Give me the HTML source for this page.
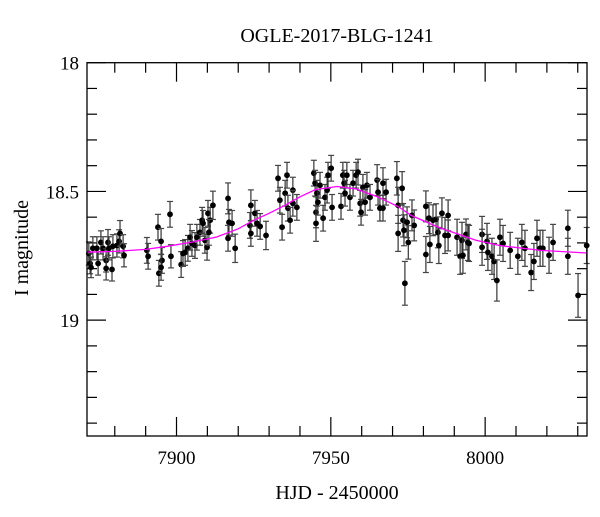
<!DOCTYPE html>
<html><head><meta charset="utf-8"><style>
html,body{margin:0;padding:0;background:#fff;}
svg text{font-family:"Liberation Serif",serif;fill:#000;}
</style></head><body>
<svg id="chart" width="600" height="512" viewBox="0 0 600 512" xmlns="http://www.w3.org/2000/svg">
<text x="337" y="42" font-size="20" text-anchor="middle">OGLE-2017-BLG-1241</text>
<text x="337" y="499" font-size="20" text-anchor="middle">HJD - 2450000</text>
<text x="28" y="248" font-size="20" text-anchor="middle" transform="rotate(-90 28 248)">I magnitude</text>
<g id="axes"></g>
<g id="marks"></g>
<rect x="87" y="62.7" width="500" height="373.3" fill="none" stroke="#000" stroke-width="1.3"/>
</svg>
<script>
const xTicksMajor = [7900, 7950, 8000];
const yTicksMajor = [18, 18.5, 19];
const xTickLabels = ["7900", "7950", "8000"];
const yTickLabels = ["18", "18.5", "19"];
const hjd = [7871.6,7872.0,7872.3,7872.9,7874.2,7874.6,7875.5,7876.2,7877.2,7877.2,7877.8,7878.1,7879.1,7879.4,7880.7,7881.4,7881.7,7882.7,7883.0,
7890.4,7890.8,7894.0,7894.3,7895.0,7895.3,7895.0,7897.9,7898.2,7901.5,7902.1,7902.8,7903.7,7904.4,7905.0,7906.0,7906.6,7907.6,7908.3,7908.6,7909.2,7909.9,7910.2,7910.9,7911.8,7910.5,
7916.7,7917.0,7916.7,7918.0,7919.0,7924.1,7923.8,7924.1,7925.4,7926.1,7927.1,7929.0,
7932.9,7933.5,7934.2,7935.2,7935.8,7936.1,7936.8,7937.7,7937.7,7939.0,
7944.5,7944.9,7945.5,7945.2,7945.2,7945.8,7946.5,7947.5,7948.1,7948.8,7949.1,7950.1,7950.4,
7953.3,7953.9,7954.3,7954.6,7955.2,7956.2,7957.2,7958.2,7958.8,7959.5,7959.8,7960.4,7961.1,7961.7,7962.7,7965.0,7965.3,7965.9,7966.9,7966.9,7967.9,
7971.4,7971.8,7971.8,7973.1,7973.4,7973.7,7974.7,7975.1,7974.0,7976.3,7977.0,
7980.8,7980.8,7981.8,7982.1,7983.1,7984.1,7984.7,7985.0,7986.0,7987.0,7988.0,7988.0,
7990.9,7991.9,7992.5,7992.8,7993.8,7994.4,7994.8,7999.0,7999.0,8000.6,8000.9,8002.2,8002.9,8003.8,8004.8,8005.8,
8008.1,8010.6,8011.9,8012.9,8014.9,8015.8,8016.8,8017.8,8018.7,8020.7,8022.0,8026.8,8026.8,8030.1,8032.9];
const imag = [18.741,18.780,18.795,18.721,18.721,18.780,18.698,18.721,18.768,18.799,18.698,18.721,18.803,18.713,18.710,18.694,18.663,18.713,18.748,
18.729,18.752,18.639,18.818,18.694,18.768,18.795,18.589,18.752,18.784,18.741,18.737,18.721,18.678,18.702,18.710,18.678,18.659,18.612,18.624,18.690,18.717,18.585,18.612,18.554,18.659,
18.527,18.620,18.682,18.624,18.721,18.554,18.632,18.663,18.585,18.624,18.636,18.671,
18.449,18.534,18.639,18.507,18.437,18.565,18.612,18.495,18.546,18.562,
18.429,18.468,18.507,18.581,18.624,18.542,18.476,18.604,18.523,18.495,18.437,18.410,18.562,
18.558,18.437,18.468,18.507,18.437,18.523,18.468,18.437,18.425,18.546,18.581,18.484,18.542,18.476,18.523,18.456,18.503,18.565,18.565,18.468,18.503,
18.449,18.554,18.663,18.488,18.612,18.651,18.620,18.698,18.857,18.593,18.632,
18.558,18.745,18.604,18.706,18.612,18.608,18.659,18.710,18.585,18.671,18.593,18.671,
18.678,18.752,18.690,18.748,18.667,18.698,18.702,18.667,18.717,18.694,18.737,18.752,18.772,18.846,18.678,18.702,
18.729,18.752,18.698,18.721,18.815,18.772,18.682,18.721,18.721,18.748,18.698,18.643,18.752,18.904,18.710];
const ierr = [0.045,0.04,0.04,0.045,0.045,0.045,0.045,0.045,0.045,0.045,0.05,0.045,0.045,0.045,0.045,0.045,0.05,0.045,0.045,
0.05,0.05,0.05,0.05,0.05,0.05,0.05,0.05,0.045,0.05,0.05,0.05,0.05,0.05,0.05,0.05,0.05,0.05,0.05,0.05,0.05,0.05,0.05,0.05,0.055,0.05,
0.06,0.05,0.05,0.05,0.055,0.06,0.05,0.05,0.05,0.05,0.05,0.055,
0.05,0.05,0.05,0.05,0.05,0.05,0.05,0.05,0.05,0.05,
0.05,0.05,0.05,0.06,0.07,0.05,0.05,0.05,0.05,0.05,0.05,0.05,0.05,
0.05,0.05,0.05,0.05,0.05,0.05,0.05,0.05,0.05,0.05,0.05,0.05,0.05,0.05,0.05,0.06,0.05,0.05,0.05,0.06,0.05,
0.065,0.07,0.07,0.065,0.065,0.06,0.06,0.065,0.085,0.06,0.06,
0.06,0.07,0.06,0.07,0.06,0.06,0.06,0.07,0.06,0.07,0.06,0.06,
0.07,0.07,0.07,0.07,0.06,0.07,0.07,0.07,0.07,0.07,0.07,0.07,0.07,0.08,0.07,0.07,
0.07,0.07,0.07,0.07,0.07,0.07,0.07,0.07,0.07,0.07,0.07,0.07,0.07,0.085,0.07];
const modelT = [7871,7880,7890,7897,7905,7913,7920,7925,7930,7935,7940,7945,7952,7958,7965,7972,7976,7985,7997,8005,8018,8033];
const modelMag = [18.736,18.733,18.725,18.713,18.697,18.677,18.645,18.612,18.585,18.555,18.521,18.493,18.481,18.49,18.52,18.56,18.593,18.64,18.69,18.711,18.729,18.739];

const X0=87, X1=587, Y0=62.7, Y1=436;
const T0=7871, T1=8033, M0=18, M1=19.45;
const sx = t => X0 + (t-T0)/(T1-T0)*(X1-X0);
const sy = m => Y0 + (m-M0)/(M1-M0)*(Y1-Y0);
const NS="http://www.w3.org/2000/svg";
const axes=document.getElementById('axes'), marks=document.getElementById('marks');
function mk(tag, attrs, parent){const e=document.createElementNS(NS,tag);for(const k in attrs)e.setAttribute(k,attrs[k]);parent.appendChild(e);return e;}

for(let t=7880;t<=8030;t+=10){
  const major = t%50===0; const L = major?19:10; const x=sx(t);
  const a=mk('line',{x1:x,x2:x,y1:Y1,y2:Y1-L,stroke:'#000','stroke-width':1.2},axes);
  
  
  const b=mk('line',{x1:x,x2:x,y1:Y0,y2:Y0+L,stroke:'#000','stroke-width':1.2},axes);
  
  
}
xTicksMajor.forEach((t,i)=>{
  const tx=mk('text',{x:sx(t),y:Y1+28,'font-size':19,'text-anchor':'middle'},axes);
  tx.textContent=xTickLabels[i];
  
  
});
for(let k=0;k<=14;k++){
  const m=18+k*0.1; const major=(k%5===0); const L=major?19:10; const y=sy(m);
  const a=mk('line',{x1:X0,x2:X0+L,y1:y,y2:y,stroke:'#000','stroke-width':1.2},axes);
  
  
  const b=mk('line',{x1:X1,x2:X1-L,y1:y,y2:y,stroke:'#000','stroke-width':1.2},axes);
  
  
}
yTicksMajor.forEach((m,i)=>{
  const tx=mk('text',{x:X0-8,y:sy(m)+7,'font-size':19,'text-anchor':'end'},axes);
  tx.textContent=yTickLabels[i];
  
  
});
hjd.forEach((t,i)=>{
  const x=sx(t), y=sy(imag[i]), ya=sy(imag[i]-ierr[i]), yb=sy(imag[i]+ierr[i]);
  const g=mk('g',{},marks);
  
  
  mk('line',{x1:x,x2:x,y1:ya,y2:yb,stroke:'#333','stroke-width':1.2},g);
  mk('line',{x1:x-3,x2:x+3,y1:ya,y2:ya,stroke:'#444','stroke-width':1.2},g);
  mk('line',{x1:x-3,x2:x+3,y1:yb,y2:yb,stroke:'#444','stroke-width':1.2},g);
  mk('circle',{cx:x,cy:y,r:2.9,fill:'#000'},g);
});
const d = modelT.map((t,i)=>(i?'L':'M')+sx(t).toFixed(1)+' '+sy(modelMag[i]).toFixed(1)).join(' ');
const p=mk('path',{d:d,fill:'none',stroke:'#ff00ff','stroke-width':1.3},marks);


</script>
</body></html>
